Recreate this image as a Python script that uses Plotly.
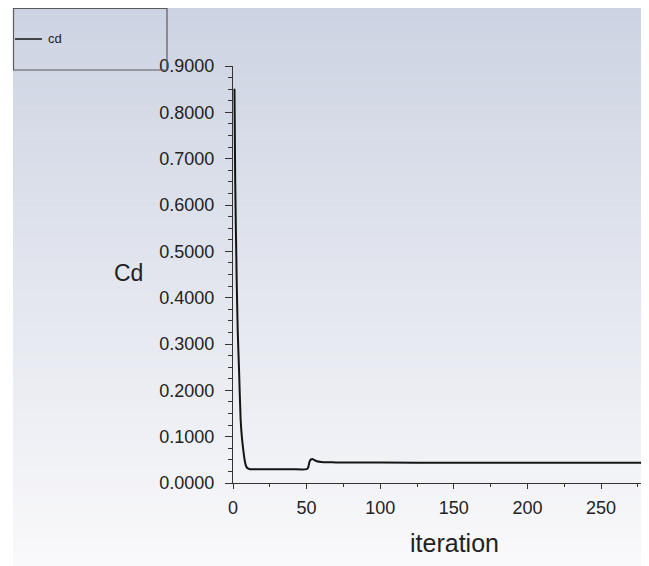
import plotly.graph_objects as go

# Data
iteration = [1, 1.5, 2.5, 3.2, 4.1, 5.2, 6, 7, 8, 8.6, 9.5, 10.5, 11.5, 20, 30, 40, 50,
             51, 52, 53, 54, 55, 57, 60, 65, 70, 80, 100, 150, 200, 250, 278]
cd = [0.851, 0.65, 0.44, 0.33, 0.244, 0.136, 0.10, 0.071, 0.048, 0.039, 0.033, 0.031, 0.0297,
      0.0295, 0.0296, 0.0297, 0.0298,
      0.033, 0.046, 0.051, 0.052, 0.050, 0.047, 0.0455, 0.0448, 0.0445, 0.0442, 0.0440,
      0.0439, 0.0438, 0.0438, 0.0438]

OFF = 8  # page body margin
W, H = 649 - OFF, 566 - OFF
L, R, T, B = 233, 642, 66, 483  # plot area in page pixels


def px_x(p):
    return (p - L) / (R - L)


def px_y(p):
    return (B - p) / (B - T)


fig = go.Figure()
fig.add_trace(go.Scatter(x=iteration, y=cd, mode="lines", name="cd",
                         line=dict(color="#151515", width=2, shape="spline", smoothing=0.6),
                         showlegend=False))

shapes = []
# gradient background
top_c = (0xCD, 0xD3, 0xE2)
bot_c = (0xF9, 0xF9, 0xFB)
y0p, y1p = 8, 566
n = 90
for i in range(n):
    a = y0p + (y1p - y0p) * i / n
    b = y0p + (y1p - y0p) * (i + 1) / n + 0.5
    t = i / (n - 1)
    c = tuple(round(top_c[k] + (bot_c[k] - top_c[k]) * t) for k in range(3))
    shapes.append(dict(type="rect", xref="paper", yref="paper", layer="below",
                       x0=px_x(13), x1=px_x(642), y0=px_y(b), y1=px_y(a),
                       line=dict(width=0), fillcolor="rgb(%d,%d,%d)" % c))
# legend box
shapes.append(dict(type="rect", xref="paper", yref="paper",
                   x0=px_x(13.5), x1=px_x(167), y0=px_y(70), y1=px_y(8.5),
                   line=dict(color="#5a5a5a", width=1.2), fillcolor="rgba(0,0,0,0)"))
shapes.append(dict(type="line", xref="paper", yref="paper",
                   x0=px_x(15), x1=px_x(42), y0=px_y(39), y1=px_y(39),
                   line=dict(color="#151515", width=1.5)))

annotations = [
    dict(text="cd", xref="paper", yref="paper", x=px_x(46), y=px_y(39),
         xanchor="left", yanchor="middle", showarrow=False,
         font=dict(size=13, color="#222", family="Liberation Sans, Arial")),
    dict(text="Cd", xref="paper", yref="paper", x=px_x(128), y=px_y(273),
         xanchor="center", yanchor="middle", showarrow=False,
         font=dict(size=23, color="#222", family="Liberation Sans, Arial")),
    dict(text="iteration", xref="paper", yref="paper", x=px_x(454), y=px_y(543),
         xanchor="center", yanchor="middle", showarrow=False,
         font=dict(size=25, color="#222", family="Liberation Sans, Arial")),
]

axis_font = dict(size=18, color="#222", family="Liberation Sans, Arial")
fig.update_layout(
    width=W, height=H,
    margin=dict(l=L - OFF, r=649 - R, t=T - OFF, b=566 - B, pad=0),
    paper_bgcolor="white", plot_bgcolor="rgba(0,0,0,0)",
    shapes=shapes, annotations=annotations,
    xaxis=dict(range=[0, (R - L) / 1.472], showgrid=False, zeroline=False,
               showline=True, linecolor="#333", linewidth=1,
               ticks="outside", ticklen=5, tickcolor="#333", tickwidth=1,
               tick0=0, dtick=50, tickfont=axis_font, ticklabelstandoff=3,
               minor=dict(ticks="outside", ticklen=3, dtick=25, tickcolor="#333", showgrid=False)),
    yaxis=dict(range=[0, 0.9], showgrid=False, zeroline=False,
               showline=True, linecolor="#333", linewidth=1,
               ticks="outside", ticklen=7, tickcolor="#333", tickwidth=1,
               tick0=0, dtick=0.1, tickformat=".4f", tickfont=axis_font, ticklabelstandoff=7,
               minor=dict(ticks="outside", ticklen=4, dtick=0.025, tickcolor="#333", showgrid=False)),
)

fig.write_html("out.html")
